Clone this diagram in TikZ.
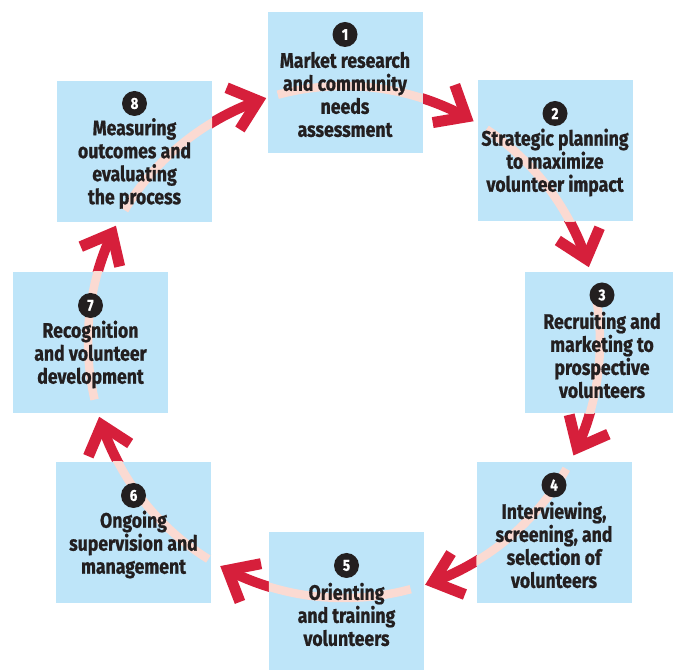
\documentclass[tikz,border=0pt]{standalone}
\usepackage{fontspec}
\setmainfont{Fira Sans}[FakeStretch=0.84, BoldFeatures={FakeBold=0.8}]
\usetikzlibrary{calc}
\definecolor{boxblue}{HTML}{BEE5F9}
\definecolor{arrred}{HTML}{D61F3B}
\definecolor{arrpink}{HTML}{FBDAD2}
\definecolor{ink}{HTML}{231F20}
\begin{document}
\begin{tikzpicture}[x=1pt,y=1pt,
  stepbox/.style={rectangle, fill=boxblue, draw=none, inner sep=0pt, minimum width=155pt, minimum height=141pt},
  badge/.style={circle, fill=ink, text=white, inner sep=0pt, minimum size=25pt, font=\bfseries\fontsize{16}{16}\selectfont},
  lbl/.style={text=ink, align=center, inner sep=0pt, font=\bfseries\fontsize{21}{23}\selectfont},
  redarc/.style={draw=arrred, line width=10pt},
  pinkarc/.style={draw=arrpink, line width=8.5pt},
  head/.style={draw=arrred, line width=11pt, line join=miter, miter limit=10}
]
\useasboundingbox (0,0) rectangle (673,670);
\coordinate (C) at (344,328);
\def\R{256}
% red arcs with heads
\foreach \i/\a/\b in {1/105/59.6, 2/56.2/17, 3/9.3/-26.3, 4/-29.7/-71.5, 5/-74.9/-118.9, 6/-122/-163, 7/-167/-207, 8/-211/-252.3}{
  \pgfmathsetmacro\e{\b+1.8}
  \coordinate (s\i) at ($(C)+(\a:\R pt)$);
  \coordinate (t\i) at ($(C)+(\b:\R pt)$);
  \draw[redarc] (s\i) arc[start angle=\a, end angle=\e, radius=\R pt];
  \coordinate (v\i) at ($(t\i)+(\b+90:8.5pt)$);
  \draw[head] ($(v\i)+(\b+130:34pt)$) -- (v\i) -- ($(v\i)+(\b+50:34pt)$);
}
% boxes
\node[stepbox] (box1) at (345,587.5) {};
\node[stepbox] (box2) at (555,519.5) {};
\node[stepbox] (box3) at (602,327) {};
\node[stepbox] (box4) at (554,137) {};
\node[stepbox] (box5) at (346.5,67.5) {};
\node[stepbox] (box6) at (133.5,137.5) {};
\node[stepbox] (box7) at (90.5,327.5) {};
\node[stepbox] (box8) at (134.5,518.5) {};
% pale part of each arc inside its source box
\foreach \i/\a/\b in {1/105/59.6, 2/56.2/17, 3/9.3/-26.3, 4/-29.7/-71.5, 5/-74.9/-118.9, 6/-122/-163, 7/-167/-207, 8/-211/-252.3}{
  \begin{scope}
    \clip (box\i.south west) rectangle (box\i.north east);
    \draw[pinkarc] (s\i) arc[start angle=\a, end angle=\b, radius=\R pt];
  \end{scope}
}
% badges and labels
\node[badge] (n1) at ($(box1.center)+(0,48)$) {1};
\node[lbl] (l1) at ($(box1.center)+(0,-12)$) {Market research\\and community\\needs\\assessment};
\node[badge] (n2) at ($(box2.center)+(0,37)$) {2};
\node[lbl] (l2) at ($(box2.center)+(0,-12)$) {Strategic planning\\to maximize\\volunteer impact};
\node[badge] (n3) at ($(box3.center)+(0,48)$) {3};
\node[lbl] (l3) at ($(box3.center)+(0,-12)$) {Recruiting and\\marketing to\\prospective\\volunteers};
\node[badge] (n4) at ($(box4.center)+(0,48)$) {4};
\node[lbl] (l4) at ($(box4.center)+(0,-12)$) {Interviewing,\\screening, and\\selection of\\volunteers};
\node[badge] (n5) at ($(box5.center)+(0,37)$) {5};
\node[lbl] (l5) at ($(box5.center)+(0,-12)$) {Orienting\\and training\\volunteers};
\node[badge] (n6) at ($(box6.center)+(0,37)$) {6};
\node[lbl] (l6) at ($(box6.center)+(0,-12)$) {Ongoing\\supervision and\\management};
\node[badge] (n7) at ($(box7.center)+(0,37)$) {7};
\node[lbl] (l7) at ($(box7.center)+(0,-12)$) {Recognition\\and volunteer\\development};
\node[badge] (n8) at ($(box8.center)+(0,48)$) {8};
\node[lbl] (l8) at ($(box8.center)+(0,-12)$) {Measuring\\outcomes and\\evaluating\\the process};
\end{tikzpicture}
\end{document}
